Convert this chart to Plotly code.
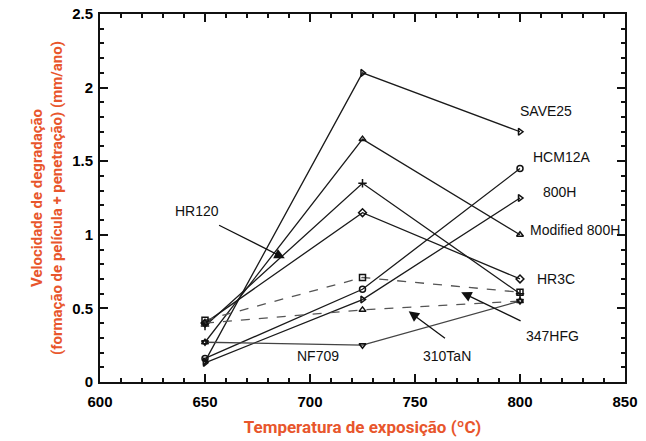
import plotly.graph_objects as go

temps = [650, 725, 800]
series_names = ["SAVE25", "Modified 800H", "HR120", "HR3C", "HCM12A", "800H", "347HFG", "310TaN", "NF709"]
save25 = [0.14, 2.10, 1.70]
mod800h = [0.27, 1.65, 1.00]
hr120 = [0.38, 1.35, 0.60]
hr3c = [0.40, 1.15, 0.70]
hcm12a = [0.16, 0.63, 1.45]
h800 = [0.13, 0.56, 1.25]
hfg347 = [0.42, 0.71, 0.61]
tan310 = [0.40, 0.49, 0.55]
nf709 = [0.27, 0.25, 0.55]

values = [save25, mod800h, hr120, hr3c, hcm12a, h800, hfg347, tan310, nf709]
symbols = ["triangle-right-open", "triangle-up-open", "cross-thin-open", "diamond-open", "circle-open",
           "triangle-right-open", "square-open", "triangle-up-open", "triangle-down-open"]
dashes = ["solid", "solid", "solid", "solid", "solid", "solid", "dash", "dash", "solid"]
colors = ["#1a1a1a"] * 6 + ["#555555", "#555555", "#444444"]

fig = go.Figure()
for name, vals, sym, dsh, col in zip(series_names, values, symbols, dashes, colors):
    fig.add_trace(go.Scatter(
        x=temps, y=vals, mode="lines+markers", name=name,
        line=dict(color=col, width=1.3, dash=dsh),
        marker=dict(symbol=sym, size=6, color="#111111", line=dict(width=1.5, color="#111111")),
        showlegend=False))

lab_font = dict(family="Liberation Sans, Arial, sans-serif", size=14, color="#111111")
labels = [("SAVE25", 799, 1.84, "left"), ("HCM12A", 805, 1.53, "left"), ("800H", 810, 1.29, "left"),
          ("Modified 800H", 804, 1.03, "left"), ("HR3C", 807, 0.70, "left"),
          ("347HFG", 802, 0.31, "left"), ("310TaN", 765, 0.18, "center"),
          ("NF709", 704, 0.18, "center"), ("HR120", 646, 1.16, "center")]
for txt, xv, yv, anc in labels:
    fig.add_annotation(x=xv, y=yv, text=txt, showarrow=False, xanchor=anc, yanchor="middle", font=lab_font)

arrows = [(688, 0.84, 656, 1.07), (772, 0.61, 801, 0.41), (747, 0.48, 765, 0.29)]
for xh, yh, xt, yt in arrows:
    fig.add_annotation(x=xh, y=yh, ax=xt, ay=yt, xref="x", yref="y", axref="x", ayref="y",
                       text="", showarrow=True, arrowhead=2, arrowsize=1.6, arrowwidth=1.3, arrowcolor="#111111")

tick_font = dict(family="Liberation Sans, Arial, sans-serif", size=15, color="#000000", weight="bold")
axis_common = dict(showline=True, linecolor="#111111", linewidth=2, mirror="ticks", ticks="inside",
                   ticklen=8, tickwidth=2, tickcolor="#111111", showgrid=False, zeroline=False,
                   tickfont=tick_font, automargin=False)

orange = "#E8562C"
x_title_font = dict(family="Liberation Sans Narrow, Roboto, sans-serif", size=17, color=orange, weight="bold")
y_title_font = dict(family="Liberation Sans Narrow, Roboto, sans-serif", size=15, color=orange, weight="bold")

xticks = [600, 650, 700, 750, 800, 850]
yticks = [0, 0.5, 1, 1.5, 2, 2.5]
fig.update_xaxes(range=[600, 850], tickvals=xticks,
                 ticktext=["%g" % v for v in xticks], ticklabelstandoff=5,
                 minor=dict(dtick=10, ticks="inside", ticklen=4, tickwidth=1.5, tickcolor="#111111"),
                 title=dict(text="Temperatura de exposição (ºC)", font=x_title_font, standoff=12),
                 **axis_common)
fig.update_yaxes(range=[0, 2.5], tickvals=yticks,
                 ticktext=["%g" % v for v in yticks], ticklabelstandoff=2,
                 minor=dict(dtick=0.1, ticks="inside", ticklen=4, tickwidth=1.5, tickcolor="#111111"),
                 title=dict(text="Velocidade de degradação<br>(formação de película + penetração) (mm/ano)",
                            font=y_title_font, standoff=6),
                 **axis_common)

fig.update_layout(width=646, height=441, margin=dict(l=100, r=21, t=14, b=59),
                  plot_bgcolor="white", paper_bgcolor="white")

fig.write_html("out.html")
